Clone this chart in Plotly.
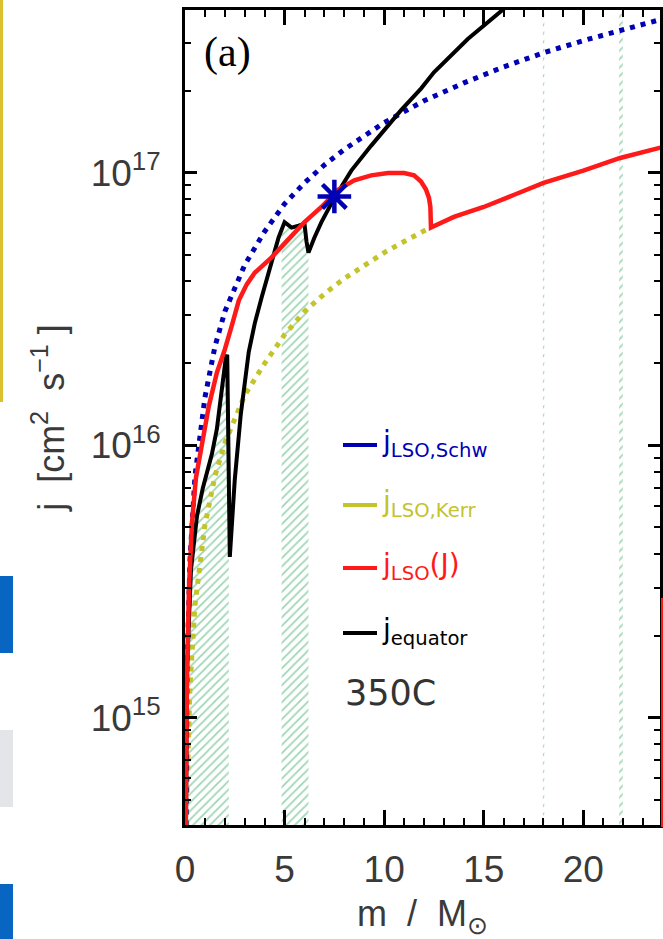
import numpy as np
import plotly.graph_objects as go

# ---------------- data ----------------
schw_m = [0.0, 0.03, 0.1, 0.25, 0.5, 1.0, 1.5, 2.0, 3.0, 4.0, 5.0, 6.0, 7.0, 8.0,
          10.0, 12.0, 14.0, 16.0, 18.0, 20.0, 22.0, 23.9]
schw_j = [1e14, 4.6e14, 1.5e15, 3.8e15, 7.7e15, 1.5e16, 2.3e16, 3.1e16, 4.6e16, 6.1e16,
          7.7e16, 9.2e16, 1.07e17, 1.22e17, 1.53e17, 1.84e17, 2.14e17, 2.45e17,
          2.76e17, 3.06e17, 3.37e17, 3.66e17]

kerr_m = [0.0, 0.1, 0.25, 0.5, 1.0, 1.5, 2.0, 3.0, 4.0, 5.0, 6.0, 7.0, 8.0, 9.0,
          10.0, 11.0, 12.3]
kerr_j = [1e14, 5.1e14, 1.3e15, 2.6e15, 5.1e15, 7.7e15, 1.02e16, 1.53e16, 2.0e16,
          2.55e16, 3.1e16, 3.6e16, 4.1e16, 4.6e16, 5.1e16, 5.6e16, 6.3e16]

lso_m = [0.0, 0.1, 0.2, 0.35, 0.55, 0.85, 1.2, 1.6, 2.0, 2.35, 2.7, 3.1, 3.5, 4.35,
         5.2, 6.0, 6.85, 7.7, 8.5, 9.35, 10.2, 11.0, 11.5, 11.85, 12.1, 12.25, 12.32,
         12.35, 13.5, 15.0, 16.5, 18.0, 20.0, 21.85, 23.9]
lso_j = [2e14, 1.4e15, 3.0e15, 5.2e15, 7.6e15, 1.0e16, 1.4e16, 1.85e16, 2.25e16,
         2.75e16, 3.4e16, 3.9e16, 4.3e16, 4.9e16, 5.7e16, 6.6e16, 7.5e16, 8.7e16,
         9.4e16, 9.8e16, 1.0e17, 1.0e17, 9.8e16, 9.3e16, 8.7e16, 8.1e16, 7.5e16,
         6.3e16, 6.9e16, 7.5e16, 8.3e16, 9.2e16, 1.02e17, 1.135e17, 1.24e17]

eq_m = [0.0, 0.1, 0.3, 0.6, 0.9, 1.1, 1.35, 1.6, 1.85, 2.05, 2.12, 2.2, 2.25, 2.5,
        2.8, 3.2, 3.5, 3.85, 4.35, 4.7, 5.0, 5.35, 5.7, 6.0, 6.1, 6.2, 6.5, 6.85,
        7.5, 8.35, 9.35, 10.85, 11.85, 12.5, 14.2, 15.85, 17.0]
eq_j = [1e14, 1.5e15, 3.5e15, 5.5e15, 7.0e15, 7.9e15, 9.3e15, 1.15e16, 1.6e16,
        2.1e16, 2.15e16, 1.0e16, 3.9e15, 7.5e15, 1.3e16, 2.2e16, 2.8e16, 3.5e16,
        4.8e16, 5.8e16, 6.6e16, 6.3e16, 6.4e16, 6.5e16, 5.6e16, 5.1e16, 5.8e16,
        6.6e16, 8.1e16, 1.02e17, 1.26e17, 1.70e17, 2.04e17, 2.34e17, 3.1e17,
        3.9e17, 4.6e17]

star_m = [7.5]
star_j = [8.2e16]

band_lo = [0.0, 4.85, 17.97, 21.8]
band_hi = [2.2, 6.2, 18.04, 21.98]

x_tickvals = [0, 5, 10, 15, 20]
y_tickvals = [1e15, 1e16, 1e17]
y_ticktext = ["10<sup>15</sup>", "10<sup>16</sup>", "10<sup>17</sup>"]

legend_labels = ["j<sub>LSO,Schw</sub>", "j<sub>LSO,Kerr</sub>",
                 "j<sub>LSO</sub>(J)", "j<sub>equator</sub>"]
legend_colors = ["#0000b4", "#c3c32a", "#ff1a1a", "#000000"]

# ---------------- layout geometry ----------------
W, H = 663, 939
L, R, T, B = 185, 3, 10, 114
PW, PH = W - L - R, H - T - B


def px(x):
    return (x - L) / PW


def py(y):
    return (H - B - y) / PH


fig = go.Figure()

# hatched bands under the equator curve
log_eq = np.log10(eq_j)
for lo, hi in zip(band_lo, band_hi):
    inner = [m for m in eq_m if lo < m < hi]
    xs = [lo] + inner + [hi]
    ys = [10 ** np.interp(m, eq_m, log_eq) for m in xs]
    fig.add_trace(go.Scatter(
        x=xs + [hi, lo, lo], y=ys + [1e14, 1e14, ys[0]],
        mode="lines", line=dict(width=0), fill="toself",
        fillcolor="rgba(0,0,0,0)",
        fillpattern=dict(shape="/", fgcolor="#3fae68", bgcolor="rgba(0,0,0,0)",
                         size=6, solidity=0.3),
        hoverinfo="skip"))

fig.add_trace(go.Scatter(x=kerr_m, y=kerr_j, mode="lines",
                         line=dict(color=legend_colors[1], width=5, dash="5px,6px")))
fig.add_trace(go.Scatter(x=schw_m, y=schw_j, mode="lines",
                         line=dict(color=legend_colors[0], width=5, dash="5px,6px")))
fig.add_trace(go.Scatter(x=eq_m, y=eq_j, mode="lines",
                         line=dict(color="black", width=4)))
fig.add_trace(go.Scatter(x=lso_m, y=lso_j, mode="lines",
                         line=dict(color=legend_colors[2], width=4.5)))
fig.add_trace(go.Scatter(x=star_m, y=star_j, mode="markers",
                         marker=dict(symbol="asterisk-open", size=28,
                                     color="#0000b4",
                                     line=dict(width=4.5, color="#0000b4"))))

# minor tick positions for the log axis
y_minor = [k * 10.0 ** n for n in range(14, 18) for k in range(2, 10)]

tickfont = dict(family="Liberation Sans", size=37, color="#3a3a3a")
titlefont = dict(family="Liberation Sans", size=36, color="#3a3a3a")
NB = "\u00a0"

fig.update_layout(
    width=W, height=H,
    margin=dict(l=L, r=R, t=T, b=B, pad=0, autoexpand=False),
    plot_bgcolor="white", paper_bgcolor="white",
    showlegend=False,
    xaxis=dict(
        range=[0, 23.85], tickmode="array", tickvals=x_tickvals,
        ticks="inside", ticklen=15, tickwidth=3, tickcolor="black",
        showline=True, linewidth=3, linecolor="black", mirror="allticks",
        showgrid=False, zeroline=False, automargin=False,
        minor=dict(ticks="inside", ticklen=7, tickwidth=2, tickcolor="black",
                   dtick=1, tick0=0, showgrid=False),
        tickfont=tickfont, ticklabelstandoff=10,
        title=dict(text="m" + NB + " / " + NB + "M<sub>⊙</sub>", font=titlefont,
                   standoff=26),
    ),
    yaxis=dict(
        type="log", range=[14.607, 17.598],
        tickmode="array", tickvals=y_tickvals, ticktext=y_ticktext,
        ticks="inside", ticklen=12, tickwidth=3, tickcolor="black",
        showline=True, linewidth=3, linecolor="black", mirror="allticks",
        showgrid=False, zeroline=False, automargin=False,
        minor=dict(ticks="inside", ticklen=6, tickwidth=2, tickcolor="black",
                   tickmode="array", tickvals=y_minor, showgrid=False),
        tickfont=tickfont, ticklabelstandoff=14,
        title=dict(text="j" + NB + " [cm<sup>2</sup>" + NB + " s<sup>−1</sup>" + NB + "]",
                   font=titlefont, standoff=16),
    ),
)

# panel label and model name
fig.add_annotation(xref="paper", yref="paper", x=px(202), y=py(52),
                   xanchor="left", yanchor="middle", showarrow=False,
                   text="(a)", font=dict(family="Liberation Serif", size=42, color="black"))
fig.add_annotation(xref="paper", yref="paper", x=px(343), y=py(693),
                   xanchor="left", yanchor="middle", showarrow=False,
                   text="350C", font=dict(family="DejaVu Sans", size=35, color="#333333"))

# legend (keys + labels)
leg_y = [445, 505, 568, 633]
for lab, col, yy in zip(legend_labels, legend_colors, leg_y):
    fig.add_shape(type="line", xref="paper", yref="paper",
                  x0=px(343), x1=px(377), y0=py(yy), y1=py(yy),
                  line=dict(color=col, width=4))
    fig.add_annotation(xref="paper", yref="paper", x=px(380), y=py(yy - 2),
                       xanchor="left", yanchor="middle", showarrow=False,
                       text=lab, font=dict(family="DejaVu Sans", size=28, color=col))

# page fragments visible around the cropped panel
def rect(x0, y0, x1, y1, color):
    fig.add_shape(type="rect", xref="paper", yref="paper",
                  x0=px(x0), x1=px(x1), y0=py(y1), y1=py(y0),
                  fillcolor=color, line=dict(width=0), layer="above")

rect(0, 0, 3, 402, "#dcbf2c")
rect(0, 576, 13, 653, "#0866c2")
rect(0, 730, 13, 807, "#e4e5e9")
rect(0, 884, 13, 939, "#0866c2")
rect(661, 598, 663, 827, "#ff1a1a")

fig.write_html("out.html",
               config={"displayModeBar": False},
               post_script="document.body.style.margin='0';"
                           "document.body.style.overflow='hidden';")
